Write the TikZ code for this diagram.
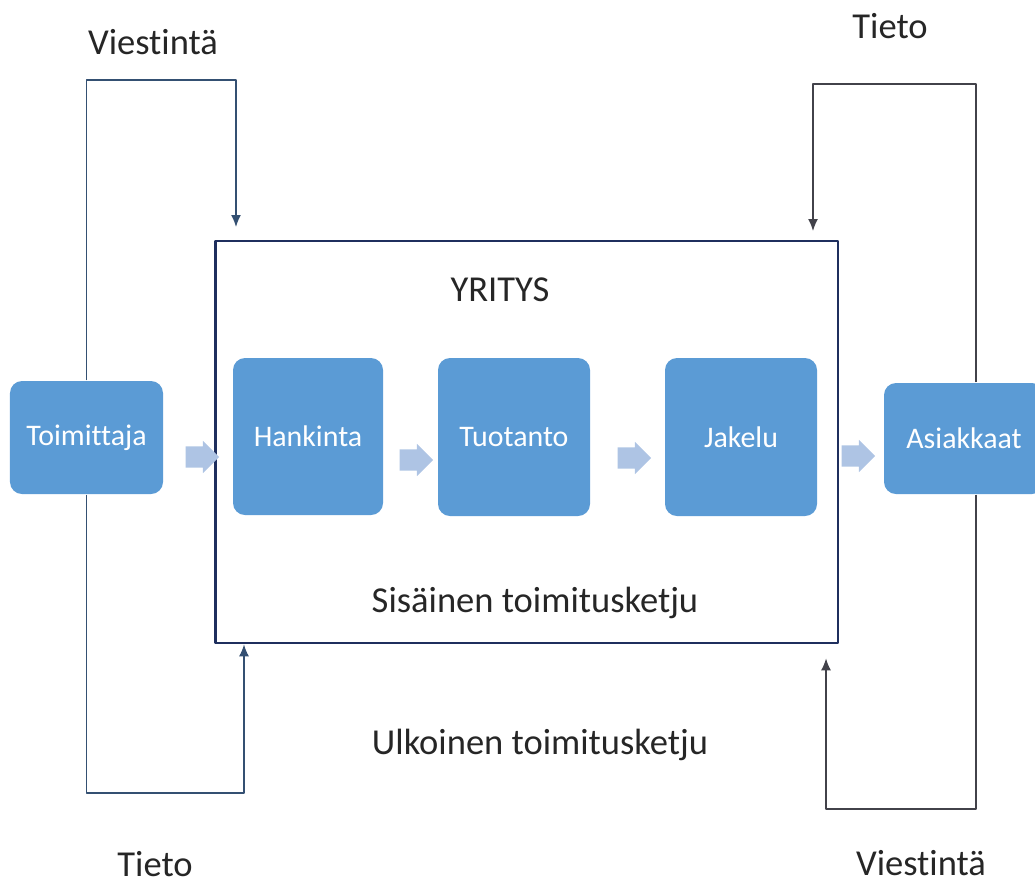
\documentclass[tikz,border=0pt]{standalone}
\usepackage{fontspec}
\setmainfont{Carlito}[RawFeature={-liga;-clig;-calt;-dlig}]
\usetikzlibrary{shapes.arrows,arrows.meta}
\definecolor{boxfill}{RGB}{91,155,213}
\definecolor{flowcol}{RGB}{174,196,228}
\definecolor{framecol}{RGB}{31,47,94}
\definecolor{leftcol}{RGB}{52,80,114}
\definecolor{rightcol}{RGB}{66,66,74}
\definecolor{labelcol}{RGB}{38,38,38}
\tikzset{
  stagebox/.style={rounded corners=9bp,fill=boxfill,draw=none,text=white,
    font=\fontsize{22.5}{26}\selectfont},
  flowarrow/.style={single arrow,fill=flowcol,draw=none,inner sep=7.5bp,
    single arrow head extend=4bp,minimum height=25bp,shape border rotate=0},
  outerlabel/.style={text=labelcol,font=\fontsize{27.5}{32}\selectfont},
}
\begin{document}
\begin{tikzpicture}[>={Latex[length=9bp,width=7.5bp]},line join=bevel,x=0.75bp,y=-0.75bp]
  \pgfsetlinewidth{1.1bp}
  \useasboundingbox (0,0) rectangle (1035,887);
%%
  % Node: yritys
  \node [draw=framecol,line width=2bp,minimum width=467bp,minimum height=301.5bp,
    inner sep=0pt] (yritys) at (526.5,442) {};
  \node [outerlabel] (ytitle) at (500,290) {YRITYS};
  \node [outerlabel] (sisainen) at (535,603) {Sisäinen toimitusketju};
  \node [outerlabel] (ulkoinen) at (540,745) {Ulkoinen toimitusketju};
  % Node: toimittaja
  \node [stagebox,minimum width=114.75bp,minimum height=84.75bp] (toimittaja) at (86.5,437.5) {Toimittaja};
  % Node: hankinta
  \node [stagebox,minimum width=112.5bp,minimum height=117.75bp] (hankinta) at (308,436.5) {Hankinta};
  % Node: tuotanto
  \node [stagebox,minimum width=114bp,minimum height=118.5bp] (tuotanto) at (514,437) {Tuotanto};
  % Node: jakelu
  \node [stagebox,minimum width=114bp,minimum height=118.5bp] (jakelu) at (741,437) {Jakelu};
  % Node: asiakkaat
  \node [stagebox,minimum width=120bp,minimum height=83.25bp] (asiakkaat) at (964,438.5) {Asiakkaat};
  % Node: flow arrows
  \node [flowarrow] (f1) at (197,457) {};
  \node [flowarrow] (f2) at (411,460) {};
  \node [flowarrow] (f3) at (629,458) {};
  \node [flowarrow] (f4) at (853,456) {};
  % Node: labels
  \node [outerlabel] (viestl) at (153,42) {Viestintä};
  \node [outerlabel] (tietol) at (155,864) {Tieto};
  \node [outerlabel] (tietor) at (890,26) {Tieto};
  \node [outerlabel] (viestr) at (921,863) {Viestintä};
  % corners
  \coordinate (lt) at (236,80);
  \coordinate (lb) at (244,793);
  \coordinate (rt) at (813,84);
  \coordinate (rb) at (826,809);
  \coordinate (rx) at (976,0);
  % Edge: toimittaja -> yritys (Viestintä)
  \draw [->,leftcol,shorten >=9.5bp] (toimittaja.north) |- (lt) -- (lt |- yritys.north);
  % Edge: toimittaja -> yritys (Tieto)
  \draw [->,leftcol] (toimittaja.south) |- (lb) -- (lb |- yritys.south);
  % Edge: asiakkaat -> yritys (Tieto)
  \draw [->,rightcol,shorten >=6.5bp] (rx |- asiakkaat.north) |- (rt) -- (rt |- yritys.north);
  % Edge: asiakkaat -> yritys (Viestintä)
  \draw [->,rightcol,shorten >=10.5bp] (rx |- asiakkaat.south) |- (rb) -- (rb |- yritys.south);
%
\end{tikzpicture}
\end{document}
